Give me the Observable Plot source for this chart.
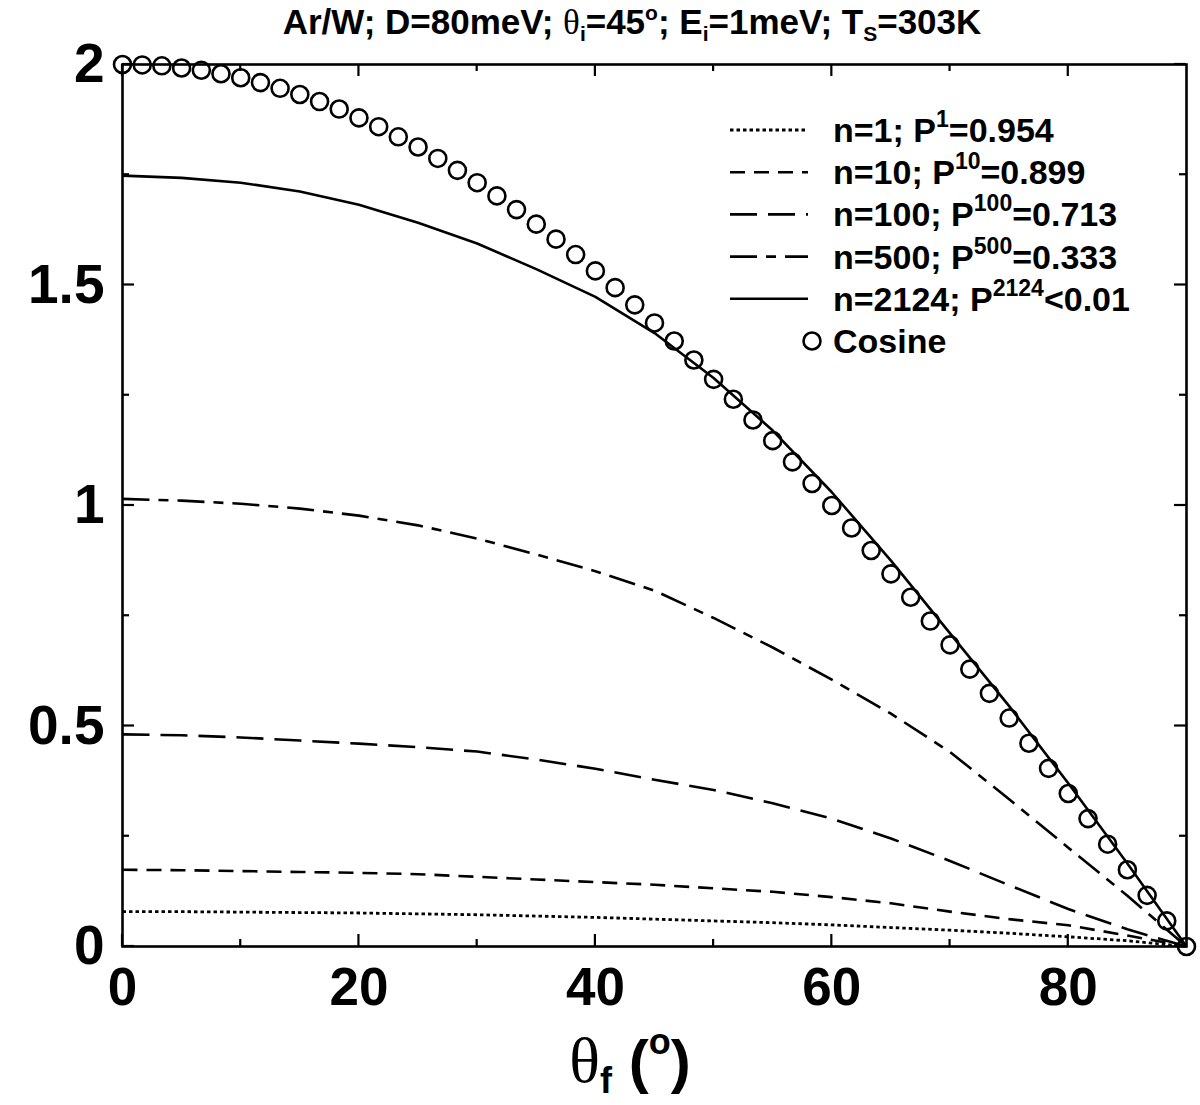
<!DOCTYPE html>
<html>
<head>
<meta charset="utf-8">
<script src="https://cdn.jsdelivr.net/npm/d3@7"></script>
<script src="https://cdn.jsdelivr.net/npm/@observablehq/plot@0.6"></script>
<style>
  html, body { margin: 0; padding: 0; background: #fff; }
  svg { display: block; }
  text { white-space: pre; }
</style>
</head>
<body>
<div id="chart"></div>
<script>
// ---------------- data ----------------
const thetaCurve = [0, 5, 10, 15, 20, 25, 30, 35, 40, 45, 50, 55, 60, 65, 70, 75, 80, 85, 90];
const n1    = [0.079, 0.079, 0.078, 0.077, 0.076, 0.074, 0.072, 0.069, 0.066, 0.062, 0.058, 0.054, 0.049, 0.043, 0.037, 0.030, 0.022, 0.013, 0];
const n10   = [0.174, 0.173, 0.171, 0.169, 0.167, 0.164, 0.158, 0.152, 0.146, 0.140, 0.132, 0.124, 0.112, 0.098, 0.079, 0.062, 0.048, 0.025, 0];
const n100  = [0.481, 0.479, 0.474, 0.467, 0.460, 0.452, 0.442, 0.424, 0.403, 0.378, 0.355, 0.325, 0.290, 0.245, 0.194, 0.139, 0.085, 0.039, 0];
const n500  = [1.015, 1.011, 1.004, 0.993, 0.977, 0.955, 0.925, 0.889, 0.851, 0.807, 0.745, 0.678, 0.605, 0.528, 0.441, 0.334, 0.224, 0.115, 0];
const n2124 = [1.748, 1.743, 1.732, 1.712, 1.682, 1.641, 1.594, 1.536, 1.473, 1.391, 1.289, 1.170, 1.030, 0.875, 0.710, 0.545, 0.370, 0.188, 0];

const thetaCos = [0, 1.67, 3.33, 5, 6.67, 8.33, 10, 11.67, 13.33, 15, 16.67, 18.33, 20, 21.67, 23.33, 25, 26.67, 28.33, 30,
  31.67, 33.33, 35, 36.67, 38.33, 40, 41.67, 43.33, 45, 46.67, 48.33, 50, 51.67, 53.33, 55, 56.67, 58.33, 60,
  61.67, 63.33, 65, 66.67, 68.33, 70, 71.67, 73.33, 75, 76.67, 78.33, 80, 81.67, 83.33, 85, 86.67, 88.33, 90];
const cosine = [2.000, 1.999, 1.997, 1.992, 1.987, 1.979, 1.970, 1.959, 1.946, 1.932, 1.916, 1.899, 1.879, 1.859, 1.836, 1.813, 1.787, 1.760, 1.732,
  1.702, 1.671, 1.638, 1.604, 1.569, 1.532, 1.494, 1.455, 1.414, 1.373, 1.330, 1.286, 1.241, 1.194, 1.147, 1.099, 1.050, 1.000,
  0.949, 0.898, 0.845, 0.792, 0.738, 0.684, 0.629, 0.574, 0.518, 0.461, 0.404, 0.347, 0.290, 0.232, 0.174, 0.116, 0.058, 0];

const seriesN   = ["1", "10", "100", "500", "2124"];
const seriesP   = ["=0.954", "=0.899", "=0.713", "=0.333", "<0.01"];
const seriesVals = [n1, n10, n100, n500, n2124];
const seriesDash = ["3.5,3", "15,9", "27,11", "27,9,10,9", null];
const seriesWidth = [2.8, 2.6, 2.6, 2.6, 2.6];

const xMajor = [0, 20, 40, 60, 80];
const xMinor = [10, 30, 50, 70];
const yMajor = [0, 0.5, 1, 1.5, 2];
const yMinor = [0.25, 0.75, 1.25, 1.75];
const yTickLabels = ["0", "0.5", "1", "1.5", "2"];

// ---------------- build tables ----------------
const curveRows = [];
seriesVals.forEach((vals, s) => {
  vals.forEach((v, i) => curveRows.push({series: s, theta: thetaCurve[i], value: v}));
});
const cosRows = thetaCos.map((t, i) => ({theta: t, value: cosine[i]}));

const SANS = "'Liberation Sans', Arial, Helvetica, sans-serif";
const SERIF = "'Liberation Serif', 'Times New Roman', serif";

const lineMarks = seriesVals.map((_, s) =>
  Plot.line(curveRows.filter(d => d.series === s), {
    x: "theta", y: "value", stroke: "black",
    strokeWidth: seriesWidth[s],
    strokeDasharray: seriesDash[s] || undefined,
    strokeLinecap: "butt", strokeLinejoin: "round"
  })
);

const chartSvg = Plot.plot({
  width: 1200,
  height: 1105,
  marginLeft: 122,
  marginRight: 14,
  marginTop: 64,
  marginBottom: 159,
  x: {domain: [0, 90]},
  y: {domain: [0, 2]},
  style: {fontFamily: SANS, fontSize: "52px", fontWeight: "bold", background: "white", color: "black", overflow: "visible"},
  marks: [
    Plot.axisX(xMajor, {tickSize: 0, tickPadding: 21, label: null, tickFormat: d => String(d), fontSize: 53, fontWeight: "bold"}),
    Plot.axisY(yMajor, {tickSize: 0, tickPadding: 18, label: null, tickFormat: d => yTickLabels[yMajor.indexOf(d)], fontSize: 55, fontWeight: "bold"}),
    ...lineMarks,
    Plot.dot(cosRows, {x: "theta", y: "value", r: 8.5, stroke: "black", strokeWidth: 2.6, fill: "none"}),
    Plot.frame({stroke: "black", strokeWidth: 2.6})
  ]
});

document.getElementById("chart").appendChild(chartSvg);

// ---------------- inward ticks on all four sides ----------------
const svgSel = d3.select(chartSvg);
const sx = chartSvg.scale("x"), sy = chartSvg.scale("y");
const pLeft = sx.apply(0), pRight = sx.apply(90), pBottom = sy.apply(0), pTop = sy.apply(2);
const tg = svgSel.append("g").attr("stroke", "black").attr("stroke-width", 2.2);
const MAJ = 12, MIN = 7;
function xTick(v, len) {
  const x = sx.apply(v);
  tg.append("line").attr("x1", x).attr("x2", x).attr("y1", pBottom).attr("y2", pBottom - len);
  tg.append("line").attr("x1", x).attr("x2", x).attr("y1", pTop).attr("y2", pTop + len);
}
function yTick(v, len) {
  const y = sy.apply(v);
  tg.append("line").attr("y1", y).attr("y2", y).attr("x1", pLeft).attr("x2", pLeft + len);
  tg.append("line").attr("y1", y).attr("y2", y).attr("x1", pRight).attr("x2", pRight - len);
}
xMajor.forEach(v => xTick(v, MAJ));
xMinor.forEach(v => xTick(v, MIN));
yMajor.forEach(v => yTick(v, MAJ));
yMinor.forEach(v => yTick(v, MIN));

// ---------------- rich text helper ----------------
function richText(x, y, parts, anchor) {
  const t = svgSel.append("text").attr("x", x).attr("y", y)
    .attr("text-anchor", anchor || "start").attr("fill", "black");
  let cur = 0;
  for (const p of parts) {
    const shift = p.shift || 0;
    t.append("tspan")
      .attr("dy", shift - cur)
      .attr("font-size", p.size)
      .attr("font-weight", p.weight || "bold")
      .attr("font-family", p.family || SANS)
      .text(p.t);
    cur = shift;
  }
  return t;
}

// ---------------- title ----------------
const TS = 35, TSS = 21;
richText(632, 34, [
  {t: "Ar/W; D=80meV; ", size: TS},
  {t: "θ", size: TS, family: SERIF, weight: "normal"},
  {t: "i", size: TSS, shift: 7},
  {t: "=45", size: TS},
  {t: "o", size: TSS, shift: -14},
  {t: "; E", size: TS},
  {t: "i", size: TSS, shift: 7},
  {t: "=1meV; T", size: TS},
  {t: "S", size: TSS, shift: 7},
  {t: "=303K", size: TS}
], "middle");

// ---------------- x-axis label ----------------
richText(630, 1082, [
  {t: "θ", size: 64, family: SERIF, weight: "normal"},
  {t: "f", size: 36, shift: 11},
  {t: " (", size: 60},
  {t: "o", size: 36, shift: -28},
  {t: ")", size: 60}
], "middle");

// ---------------- legend ----------------
const LX1 = 730, LX2 = 808, LTX = 833, LY0 = 130, LDY = 42.2, LS = 34, LSS = 23;
const lg = svgSel.append("g");
seriesVals.forEach((_, s) => {
  const y = LY0 + s * LDY;
  const ln = lg.append("line").attr("x1", LX1).attr("x2", LX2).attr("y1", y).attr("y2", y)
    .attr("stroke", "black").attr("stroke-width", seriesWidth[s]);
  if (seriesDash[s]) ln.attr("stroke-dasharray", seriesDash[s]);
  richText(LTX, y + 12, [
    {t: "n=" + seriesN[s] + "; P", size: LS},
    {t: seriesN[s], size: LSS, shift: -15},
    {t: seriesP[s], size: LS}
  ]);
});
{
  const y = LY0 + 5 * LDY;
  lg.append("circle").attr("cx", 812).attr("cy", y).attr("r", 8.5)
    .attr("fill", "none").attr("stroke", "black").attr("stroke-width", 2.6);
  richText(LTX, y + 12, [{t: "Cosine", size: LS}]);
}
</script>
</body>
</html>
